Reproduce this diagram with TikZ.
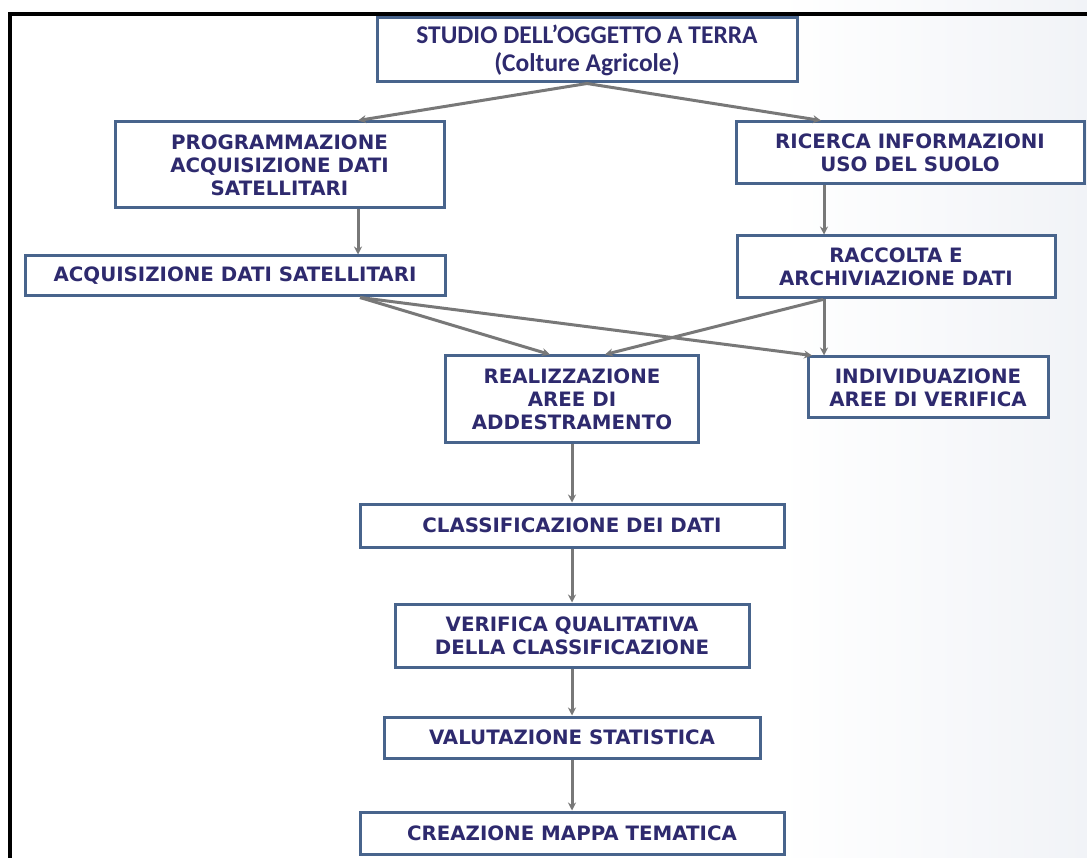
\documentclass[tikz,border=0pt]{standalone}
\usepackage{fontspec}
\setmainfont{DejaVu Sans}
\newfontfamily\calibri{Carlito}
\usetikzlibrary{arrows.meta}
\definecolor{txtblue}{RGB}{46,42,110}
\definecolor{edgeblue}{RGB}{72,100,140}
\definecolor{arrgray}{RGB}{120,120,120}
\definecolor{bgright}{RGB}{241,243,247}

\begin{document}
\begin{tikzpicture}[x=1pt, y=-1pt,
    box/.style={draw=edgeblue, line width=3pt, fill=white, text=txtblue, align=center, inner sep=0pt,
        font=\bfseries\fontsize{19.8}{23}\selectfont},
    arr/.style={draw=arrgray, line width=3pt, -{Stealth[length=8pt, width=8pt]}}]
        \useasboundingbox (0,0) rectangle (1087,858);
        % Background and frame
        \fill[white] (0,0) rectangle (1087,858);
        \shade[left color=white, right color=bgright] (780,0) rectangle (1087,858);
        \draw[line width=4pt] (1087,14) -- (10,14) -- (10,858);

        % Draw nodes
        \node[box, minimum width=420pt, minimum height=64pt, font=\calibri\bfseries\fontsize{25.5}{28}\selectfont] (studio) at (587,50) {STUDIO DELL’OGGETTO A TERRA\\(Colture Agricole)};
        \node[box, minimum width=329pt, minimum height=86pt] (prog) at (279.5,165) {PROGRAMMAZIONE\\ACQUISIZIONE DATI\\SATELLITARI};
        \node[box, minimum width=348pt, minimum height=62pt] (ricerca) at (910,153) {RICERCA INFORMAZIONI\\USO DEL SUOLO};
        \node[box, minimum width=420pt, minimum height=40pt] (acq) at (235,276) {ACQUISIZIONE DATI SATELLITARI};
        \node[box, minimum width=318pt, minimum height=62pt] (raccolta) at (896,267) {RACCOLTA E\\ARCHIVIAZIONE DATI};
        \node[box, minimum width=253pt, minimum height=86pt] (real) at (572,399) {REALIZZAZIONE\\AREE DI\\ADDESTRAMENTO};
        \node[box, minimum width=240pt, minimum height=61pt] (indiv) at (928,387.5) {INDIVIDUAZIONE\\AREE DI VERIFICA};
        \node[box, minimum width=424pt, minimum height=43pt] (class) at (572,525.5) {CLASSIFICAZIONE DEI DATI};
        \node[box, minimum width=354pt, minimum height=63pt] (verif) at (572,635.5) {VERIFICA QUALITATIVA\\DELLA CLASSIFICAZIONE};
        \node[box, minimum width=376pt, minimum height=41pt] (valut) at (572,737.5) {VALUTAZIONE STATISTICA};
        \node[box, minimum width=424pt, minimum height=42pt] (crea) at (572,833) {CREAZIONE MAPPA TEMATICA};

        % Draw connections
        \draw[arr] (studio.south) -- ([xshift=78.5pt]prog.north);
        \draw[arr] (studio.south) -- ([xshift=-89pt]ricerca.north);
        \draw[arr] ([xshift=78.5pt]prog.south) -- ([xshift=123pt]acq.north);
        \draw[arr] ([xshift=-86pt]ricerca.south) -- ([xshift=-72pt]raccolta.north);
        \draw[arr] ([xshift=125pt]acq.south) -- ([xshift=-22pt]real.north);
        \draw[arr] ([xshift=125pt]acq.south) -- ([xshift=-116pt]indiv.north);
        \draw[arr] ([xshift=-73pt]raccolta.south) -- ([xshift=33pt]real.north);
        \draw[arr] ([xshift=-72pt]raccolta.south) -- ([xshift=-104pt]indiv.north);
        \draw[arr] (real) -- (class);
        \draw[arr] (class) -- (verif);
        \draw[arr] (verif) -- (valut);
        \draw[arr] (valut) -- (crea);
    \end{tikzpicture}
\end{document}
